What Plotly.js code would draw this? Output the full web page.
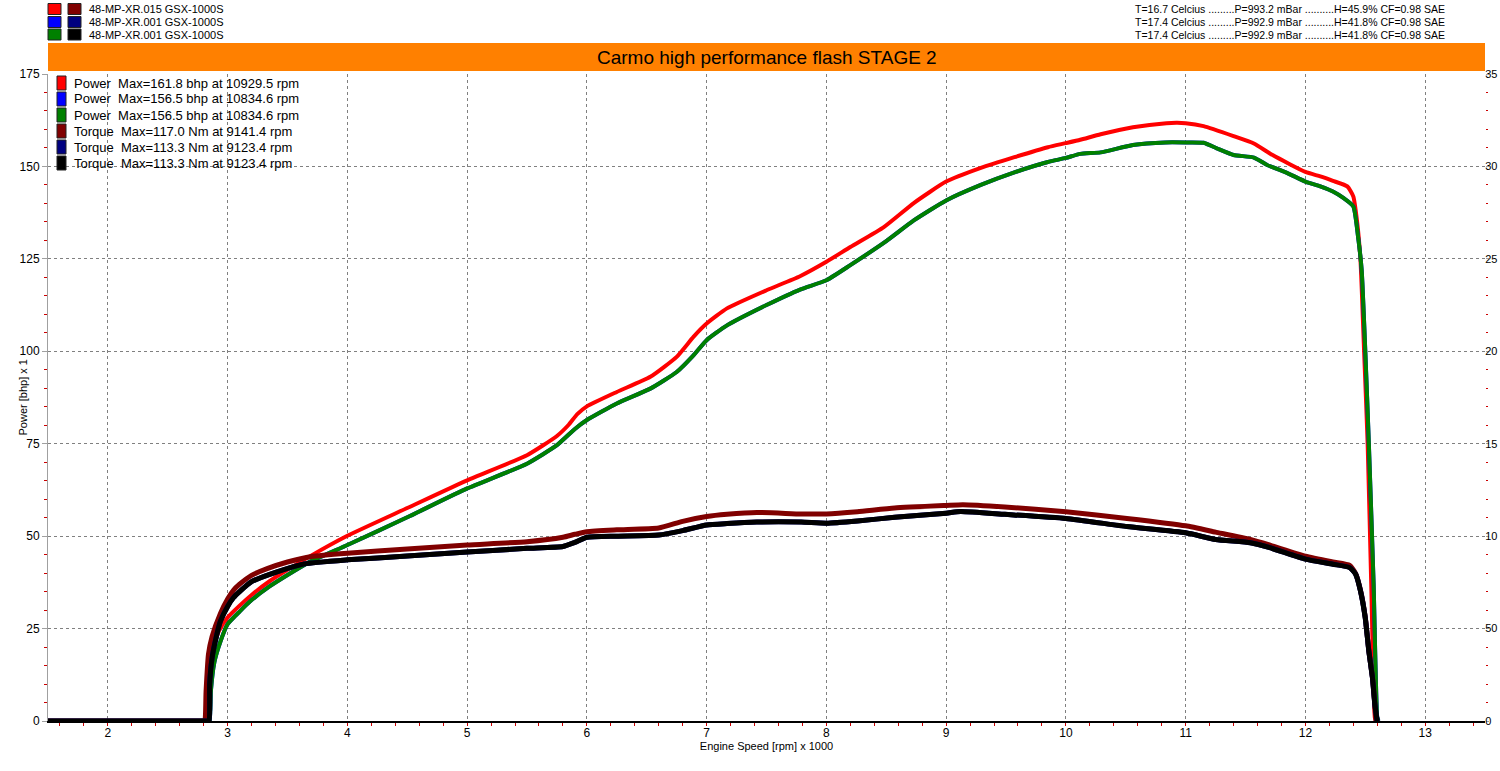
<!DOCTYPE html>
<html>
<head>
<meta charset="utf-8">
<script src="https://cdn.plot.ly/plotly-3.0.1.min.js"></script>
<style>
  html, body { margin: 0; padding: 0; background: #ffffff; }
  #chart { width: 1500px; height: 771px; }
</style>
</head>
<body>
<div id="chart"></div>
<script>
// ---------- DATA ----------
const chartTitle = "Carmo high performance flash STAGE 2";
const xTitle = "Engine Speed [rpm] x 1000";
const yTitle = "Power [bhp] x 1";

const runNames = ["48-MP-XR.015 GSX-1000S", "48-MP-XR.001 GSX-1000S", "48-MP-XR.001 GSX-1000S"];
const runConditions = [
  "T=16.7 Celcius .........P=993.2 mBar ..........H=45.9% CF=0.98 SAE",
  "T=17.4 Celcius .........P=992.9 mBar ..........H=41.8% CF=0.98 SAE",
  "T=17.4 Celcius .........P=992.9 mBar ..........H=41.8% CF=0.98 SAE"
];
const maxLabels = [
  "Power\u00A0\u00A0Max=161.8 bhp at 10929.5 rpm",
  "Power\u00A0\u00A0Max=156.5 bhp at 10834.6 rpm",
  "Power\u00A0\u00A0Max=156.5 bhp at 10834.6 rpm",
  "Torque\u00A0\u00A0Max=117.0 Nm at 9141.4 rpm",
  "Torque\u00A0\u00A0Max=113.3 Nm at 9123.4 rpm",
  "Torque\u00A0\u00A0Max=113.3 Nm at 9123.4 rpm"
];
const powerColors = ["#ff0000", "#0000ff", "#008000"];
const torqueColors = ["#800000", "#000080", "#000000"];

const xTickVals = [2, 3, 4, 5, 6, 7, 8, 9, 10, 11, 12, 13];
const yTickVals = [0, 25, 50, 75, 100, 125, 150, 175];
const y2TickVals = [0, 50, 100, 150, 200, 250, 300, 350];
const y2TickText = ["0", "50", "10", "15", "20", "25", "30", "35"];

// Run 1 (48-MP-XR.015) power, bhp
const rpm1Power = [1.5, 2.0, 2.5, 2.8, 2.83, 2.84, 2.85, 2.88, 2.93, 3.0, 3.1, 3.2, 3.35, 3.5, 3.69, 4.0, 4.5, 5.0, 5.5, 5.75, 5.85, 5.92, 6.0, 6.25, 6.53, 6.75, 6.89, 7.0, 7.17, 7.5, 7.78, 8.0, 8.2, 8.48, 8.73, 9.0, 9.29, 9.57, 9.85, 10.0, 10.12, 10.29, 10.56, 10.84, 10.93, 11.0, 11.15, 11.4, 11.57, 11.73, 12.0, 12.125, 12.23, 12.35, 12.4, 12.43, 12.46, 12.49, 12.52, 12.55, 12.58, 12.59];
const power1 = [0, 0, 0, 0, 0, 0, 6, 19.9, 24.5, 28, 31.2, 34.1, 37.8, 40.9, 44.6, 50.1, 57.6, 65.1, 71.9, 77.1, 80.2, 83, 85.1, 89, 93.1, 98.5, 103.9, 107.5, 111.6, 116.5, 120.3, 124.2, 128.2, 133.6, 140.1, 145.9, 149.6, 152.5, 155.2, 156.3, 157.2, 158.7, 160.6, 161.7, 161.8, 161.7, 160.9, 158.2, 156.2, 153.0, 148.5, 147.3, 146.1, 144.6, 141.9, 135.6, 124.7, 100.4, 75.1, 37, 1, 0];

// Runs 2 and 3 (48-MP-XR.001) power, bhp (identical runs)
const rpm2Power = [1.5, 2.0, 2.5, 2.8, 2.84, 2.85, 2.86, 2.89, 2.94, 3.0, 3.1, 3.2, 3.35, 3.5, 3.69, 4.0, 4.5, 5.0, 5.5, 5.75, 5.9, 6.0, 6.25, 6.53, 6.75, 6.89, 7.0, 7.17, 7.5, 7.78, 8.0, 8.2, 8.5, 8.73, 9.0, 9.29, 9.57, 9.85, 10.0, 10.12, 10.29, 10.56, 10.83, 11.0, 11.15, 11.26, 11.4, 11.57, 11.68, 11.85, 12.0, 12.125, 12.23, 12.32, 12.4, 12.44, 12.47, 12.5, 12.53, 12.57, 12.6, 12.61];
const power2 = [0, 0, 0, 0, 0, 0, 8, 16, 21.5, 26.2, 29.6, 32.7, 36.4, 39.5, 43.1, 47.6, 55.1, 62.9, 69.6, 74.6, 79, 81.4, 85.9, 89.9, 94.4, 98.9, 103, 107, 112.5, 116.7, 119.2, 123.3, 129.8, 135.4, 140.8, 145, 148.4, 151.2, 152.3, 153.4, 153.8, 155.8, 156.5, 156.5, 156.4, 154.9, 153.1, 152.4, 150.4, 148.2, 145.9, 144.6, 143.2, 141.4, 139.2, 131, 122, 100.4, 75.1, 37, 1, 0];

// Run 1 torque, Nm
const rpm1Torque = [1.5, 2.0, 2.5, 2.78, 2.8, 2.81, 2.82, 2.84, 2.87, 2.94, 3.0, 3.05, 3.1, 3.2, 3.33, 3.5, 3.7, 4.0, 4.5, 5.0, 5.5, 5.8, 5.9, 6.0, 6.25, 6.6, 6.8, 7.0, 7.17, 7.42, 7.79, 8.0, 8.26, 8.57, 9.0, 9.14, 9.49, 10.0, 10.51, 11.0, 11.25, 11.54, 11.71, 12.0, 12.23, 12.37, 12.42, 12.46, 12.5, 12.53, 12.56, 12.58, 12.59];
const torque1 = [0, 0, 0, 0, 0, 0, 16, 36, 45.6, 58.2, 66, 70.8, 74, 78.8, 82.4, 86, 89, 90.8, 93, 95.2, 97, 99.4, 101, 102.4, 103.4, 104.4, 108, 110.6, 111.8, 112.8, 112, 112, 113.2, 115.2, 116.6, 117.0, 115.8, 113.2, 109.6, 105.6, 102.2, 98.2, 95, 89.2, 86, 84.2, 79.8, 70.8, 56.2, 38.2, 23.8, 9.4, 0];

// Runs 2 and 3 torque, Nm (identical runs)
const rpm2Torque = [1.5, 2.0, 2.5, 2.8, 2.83, 2.845, 2.85, 2.87, 2.9, 2.94, 3.0, 3.05, 3.1, 3.2, 3.4, 3.64, 4.0, 4.5, 5.0, 5.5, 5.8, 5.9, 6.0, 6.25, 6.6, 6.8, 7.0, 7.17, 7.42, 7.79, 8.0, 8.26, 8.57, 9.0, 9.12, 9.49, 10.0, 10.51, 11.0, 11.25, 11.54, 11.71, 12.0, 12.23, 12.37, 12.42, 12.46, 12.5, 12.53, 12.56, 12.58, 12.6];
const torque2 = [0, 0, 0, 0, 0, 0, 20, 34, 44, 54, 62, 66.8, 70, 75.4, 80.4, 85, 87.2, 89.2, 91.4, 93.4, 94.4, 96.6, 99.4, 100, 100.6, 103, 106, 106.8, 107.6, 107.6, 107, 108.2, 110.2, 112.4, 113.3, 111.8, 109.6, 105.2, 101.8, 98.2, 96.4, 93.6, 87.6, 84.8, 83, 79.4, 70.4, 55.8, 37.8, 23.4, 9, 0];

// ---------- CHART ----------
const W = 1500, H = 771;
const L = 48, R = 15, T = 74, B = 50;
const PW = W - L - R, PH = H - T - B;
const px = x => (x - L) / PW;
const py = y => (H - B - y) / PH;

const traces = [
  {x: rpm1Power, y: power1, yaxis: "y", line: {color: powerColors[0], width: 4}},
  {x: rpm2Power, y: power2, yaxis: "y", line: {color: powerColors[1], width: 4}},
  {x: rpm2Power, y: power2, yaxis: "y", line: {color: powerColors[2], width: 4}},
  {x: rpm1Torque, y: torque1, yaxis: "y2", line: {color: torqueColors[0], width: 5}},
  {x: rpm2Torque, y: torque2, yaxis: "y2", line: {color: torqueColors[1], width: 5}},
  {x: rpm2Torque, y: torque2, yaxis: "y2", line: {color: torqueColors[2], width: 5}}
].map(t => {
  t.line.shape = "spline";
  t.line.smoothing = 0.5;
  return Object.assign({type: "scatter", mode: "lines", hoverinfo: "skip", showlegend: false, cliponaxis: false}, t);
});

const font = {family: "Liberation Sans, Arial, sans-serif", color: "#000000"};
const shapes = [];
const annotations = [];

// Title bar
shapes.push({type: "rect", xref: "paper", yref: "paper", x0: 0, x1: 1, y0: py(71), y1: py(43),
  fillcolor: "#ff8000", line: {width: 0}, layer: "above"});
annotations.push({xref: "paper", yref: "paper", x: 0.5, y: py(57), xanchor: "center", yanchor: "middle",
  text: chartTitle, showarrow: false, font: Object.assign({}, font, {size: 19})});

// Y axis title (placed close to the tick labels, as in the reference)
annotations.push({xref: "paper", yref: "paper", x: px(22), y: 0.5, xanchor: "center", yanchor: "middle",
  textangle: -90, text: yTitle, showarrow: false, font: Object.assign({}, font, {size: 11})});

// Top header legend
const rowY = [9, 22, 34.5];
runNames.forEach((name, i) => {
  const yc = rowY[i];
  shapes.push({type: "rect", xref: "paper", yref: "paper", x0: px(48), x1: px(61), y0: py(yc + 5.5), y1: py(yc - 5.5),
    fillcolor: powerColors[i], line: {color: "#222222", width: 1}});
  shapes.push({type: "rect", xref: "paper", yref: "paper", x0: px(68), x1: px(81), y0: py(yc + 5.5), y1: py(yc - 5.5),
    fillcolor: torqueColors[i], line: {color: "#222222", width: 1}});
  annotations.push({xref: "paper", yref: "paper", x: px(87), y: py(yc), xanchor: "left", yanchor: "middle",
    text: name, showarrow: false, font: Object.assign({}, font, {size: 11})});
  annotations.push({xref: "paper", yref: "paper", x: px(1133), y: py(yc), xanchor: "left", yanchor: "middle",
    text: runConditions[i], showarrow: false, font: Object.assign({}, font, {size: 10.5})});
});

// Inner max legend
const legColors = powerColors.concat(torqueColors);
maxLabels.forEach((lab, i) => {
  const yc = 83 + 16 * i;
  shapes.push({type: "rect", xref: "paper", yref: "paper", x0: px(57), x1: px(66), y0: py(yc + 7), y1: py(yc - 7),
    fillcolor: legColors[i], line: {color: "#222222", width: 1}});
  annotations.push({xref: "paper", yref: "paper", x: px(72), y: py(yc), xanchor: "left", yanchor: "middle",
    text: lab, showarrow: false, font: Object.assign({}, font, {size: 13})});
});

const layout = {
  width: W, height: H,
  margin: {l: L, r: R, t: T, b: B, pad: 0},
  paper_bgcolor: "#ffffff", plot_bgcolor: "#ffffff",
  font: Object.assign({}, font, {size: 12}),
  showlegend: false,
  xaxis: {
    range: [1.5, 13.5], tickvals: xTickVals, ticktext: xTickVals.map(String),
    showgrid: true, gridcolor: "#808080", gridwidth: 1, griddash: "3px,3px",
    showline: true, linecolor: "#000000", linewidth: 1.5, zeroline: false,
    ticks: "", tickfont: {size: 12},
    minor: {dtick: 0.2, tick0: 0, ticks: "outside", ticklen: 3, tickcolor: "#cc0000", tickwidth: 1, showgrid: false},
    title: {text: xTitle, font: {size: 11}, standoff: 3},
    automargin: false, fixedrange: true
  },
  yaxis: {
    range: [0, 175], tickvals: yTickVals,
    showgrid: true, gridcolor: "#808080", gridwidth: 1, griddash: "3px,3px",
    showline: true, linecolor: "#a0a0a0", linewidth: 1, zeroline: false,
    ticks: "outside", ticklen: 5, tickcolor: "#a0a0a0", tickfont: {size: 12},
    minor: {dtick: 5, tick0: 0, ticks: "outside", ticklen: 3, tickcolor: "#cc0000", tickwidth: 1, showgrid: false},
    automargin: false, fixedrange: true
  },
  yaxis2: {
    overlaying: "y", side: "right", range: [0, 350],
    tickvals: y2TickVals, ticktext: y2TickText,
    showgrid: false, showline: false, zeroline: false,
    ticks: "outside", ticklen: 3, tickcolor: "#a0a0a0", tickfont: {size: 11},
    ticklabelstandoff: -6,
    minor: {dtick: 10, tick0: 0, ticks: "outside", ticklen: 2, tickcolor: "#cc0000", tickwidth: 1, showgrid: false},
    automargin: false, fixedrange: true
  },
  shapes: shapes,
  annotations: annotations
};

Plotly.newPlot("chart", traces, layout, {staticPlot: true, displayModeBar: false});
</script>
</body>
</html>
